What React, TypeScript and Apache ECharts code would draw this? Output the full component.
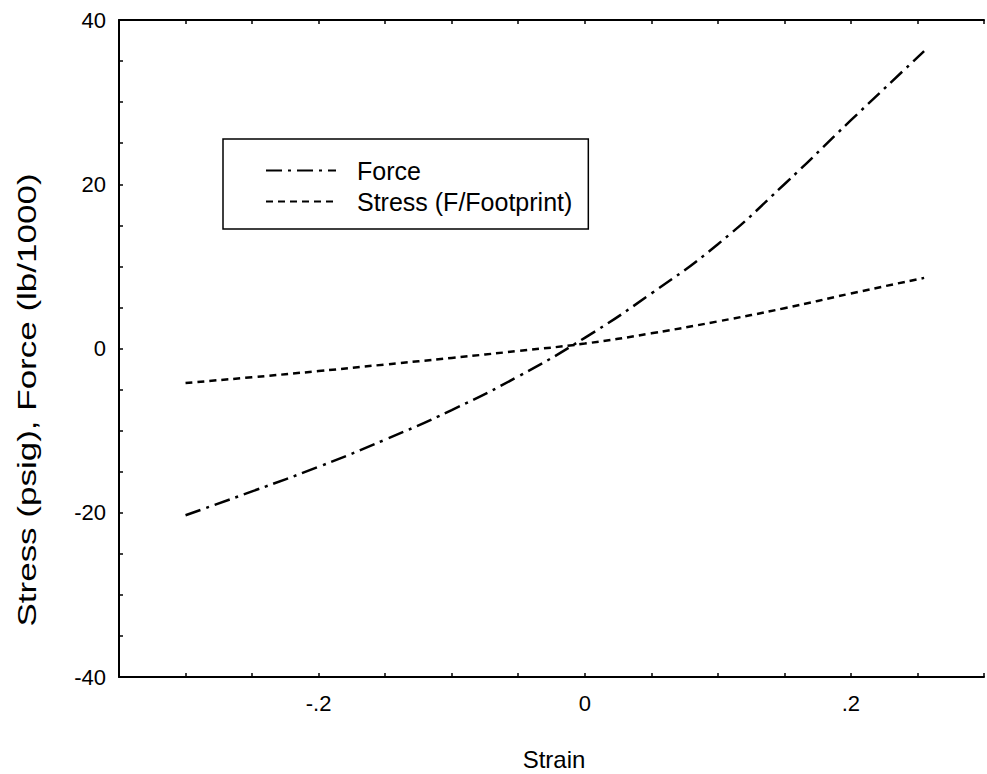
import React, { useEffect, useRef } from "react";
import * as echarts from "echarts";

const strain = [-0.30, -0.25, -0.20, -0.15, -0.10, -0.05, 0, 0.05, 0.10, 0.15, 0.20, 0.255];
const force = [-20.3, -17.4, -14.4, -11.1, -7.5, -3.4, 1.3, 6.7, 12.7, 20.0, 27.8, 36.2];
const stress = [-4.2, -3.5, -2.75, -1.95, -1.15, -0.3, 0.6, 1.85, 3.3, 4.9, 6.7, 8.6];
const xLabels: Record<string, string> = { "-0.2": "-.2", "0": "0", "0.2": ".2" };
const yLabelValues = [-40, -20, 0, 20, 40];

const FONT = "Liberation Sans, Arial, Helvetica, sans-serif";

export default function App() {
  const ref = useRef<HTMLDivElement>(null);
  useEffect(() => {
    if (!ref.current) return;
    const chart = echarts.init(ref.current, undefined, { renderer: "svg" });
    const xFmt = (v: number) => {
      const k = (Math.round(v * 100) / 100).toString();
      return xLabels[k] ?? "";
    };
    const commonX = {
      type: "value" as const,
      min: -0.35,
      max: 0.3,
      interval: 0.05,
      splitLine: { show: false },
      axisLine: { show: true, onZero: false, lineStyle: { color: "#000", width: 2 } },
      axisTick: { show: true, inside: true, length: 4, lineStyle: { color: "#000", width: 1.5 } },
    };
    chart.setOption({
      animation: false,
      backgroundColor: "#fff",
      textStyle: { fontFamily: FONT },
      grid: { left: 119, right: 0, top: 20, bottom: 97, containLabel: false },
      xAxis: [
        {
          ...commonX,
          position: "bottom",
          axisLabel: { show: true, formatter: xFmt, color: "#000", fontSize: 22, margin: 15, fontFamily: FONT },
        },
        {
          ...commonX,
          position: "top",
          axisLabel: { show: false },
        },
      ],
      yAxis: {
        type: "value",
        min: -40,
        max: 40,
        interval: 5,
        splitLine: { show: false },
        axisLine: { show: true, onZero: false, lineStyle: { color: "#000", width: 2 } },
        axisTick: { show: true, inside: true, length: 4, lineStyle: { color: "#000", width: 1.5 } },
        axisLabel: {
          color: "#000",
          fontSize: 22,
          margin: 13,
          fontFamily: FONT,
          formatter: (v: number) => (yLabelValues.some((t) => Math.abs(t - v) < 1e-9) ? String(v) : ""),
        },
      },
      legend: {
        show: true,
        orient: "vertical",
        left: 223,
        top: 139,
        padding: [19, 16, 15, 42],
        borderColor: "#000",
        borderWidth: 1.5,
        itemWidth: 70,
        itemHeight: 24,
        itemGap: 6,
        itemStyle: { opacity: 0 },
        textStyle: { fontSize: 25, color: "#000", fontFamily: FONT, padding: [0, 0, 0, 16] },
        data: ["Force", "Stress (F/Footprint)"],
      },
      graphic: [
        {
          type: "text",
          x: 554,
          y: 759,
          style: { text: "Strain", fontSize: 24, fontFamily: FONT, fill: "#000", align: "center", verticalAlign: "middle" },
        },
        {
          type: "text",
          x: 27,
          y: 400,
          rotation: Math.PI / 2,
          scaleX: 1.4,
          style: {
            text: "Stress (psig), Force (lb/1000)",
            fontSize: 25,
            fontFamily: FONT,
            fill: "#000",
            align: "center",
            verticalAlign: "middle",
          },
        },
      ],
      series: [
        {
          name: "Force",
          type: "line",
          xAxisIndex: 0,
          symbol: "none",
          smooth: true,
          itemStyle: { color: "#000" },
          data: strain.map((x, i) => [x, force[i]]),
          lineStyle: { color: "#000", width: 2.5, type: [16, 6, 3, 6] },
        },
        {
          name: "Stress (F/Footprint)",
          type: "line",
          xAxisIndex: 0,
          symbol: "none",
          smooth: true,
          itemStyle: { color: "#000" },
          data: strain.map((x, i) => [x, stress[i]]),
          lineStyle: { color: "#000", width: 2.5, type: [7, 5] },
        },
      ],
    });
    return () => chart.dispose();
  }, []);
  return <div ref={ref} style={{ position: "absolute", left: 0, top: 0, width: 987, height: 774 }} />;
}
